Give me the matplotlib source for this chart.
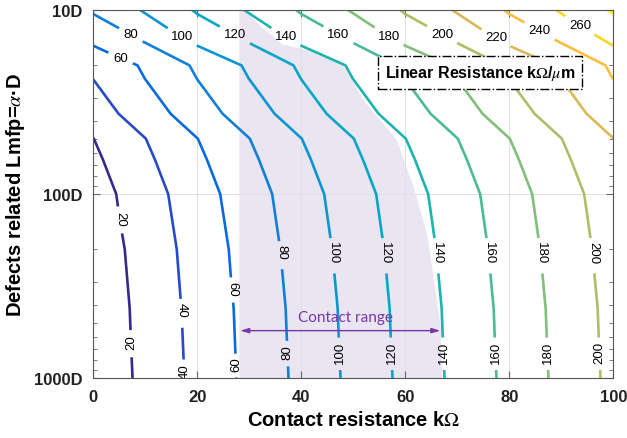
import numpy as np
import matplotlib
matplotlib.use('Agg')
import matplotlib.pyplot as plt
from matplotlib.colors import LinearSegmentedColormap, Normalize
from matplotlib.ticker import NullFormatter

plt.rcParams['font.family'] = ['Liberation Sans', 'DejaVu Sans']
plt.rcParams['mathtext.fontset'] = 'stix'

# grid: contact resistance (kOhm) x mean free path (in D)
contact_kohm = [0, 20, 40, 60, 80, 100]
lmfp_d = [10, 20, 23.6, 36.6, 50, 65, 100, 200, 420, 1000]
linear_res = [
    [82.0, 122.0, 162.0, 202.0, 242.0, 282.0],
    [43.0, 83.0, 123.0, 163.0, 203.0, 243.0],
    [40.2, 80.2, 120.2, 160.2, 200.2, 240.2],
    [30.3, 70.3, 110.3, 150.3, 190.3, 230.3],
    [19.8, 59.8, 99.8, 139.8, 179.8, 219.8],
    [16.3, 56.3, 96.3, 136.3, 176.3, 216.3],
    [11.2, 51.2, 91.2, 131.2, 171.2, 211.2],
    [7.9, 47.9, 87.9, 127.9, 167.9, 207.9],
    [6.0, 46.0, 86.0, 126.0, 166.0, 206.0],
    [4.9, 44.9, 84.9, 124.9, 164.9, 204.9],
]
levels = [20, 40, 60, 80, 100, 120, 140, 160, 180, 200, 220, 240, 260, 280]

# shaded "contact range" band: left edge and hand drawn right edge
contact_range = [28, 67]
shade_lmfp = [10, 12.4, 15.3, 16.3, 19.9, 30.8, 50.2, 90.5, 169, 279, 521, 1000]
shade_right = [29.2, 32.4, 36.3, 40.7, 48.0, 51.9, 58.2, 61.5, 64.2, 65.3, 66.7, 67.0]
arrow_lmfp = 553

# contour label spots (x, lmfp)
top_labels = [(5.15, 18.5), (6.9, 14.07), (17.0, 14.07), (26.9, 14.07), (36.9, 14.07),
              (46.8, 14.07), (56.7, 14.07), (66.7, 14.07), (77.25, 14.38),
              (85.6, 13.22), (93.3, 12.42)]
mid_labels = [(4.75, 136.8), (16.7, 421.7), (26.3, 328), (35.9, 206.5), (45.8, 206.5),
              (55.7, 206.5), (65.7, 206.5), (75.7, 206.5), (85.6, 206.5), (95.5, 206.5)]
bot_labels = [(7.06, 637), (17.3, 912), (27.25, 840), (37.2, 722), (47.4, 722),
              (57.4, 722), (67.3, 722), (77.25, 722), (87.5, 722), (97.4, 722)]

# old matlab parula, every 4th entry of the 64 colour table
parula_pts = [
    (1, (0.2081, 0.1663, 0.5292)), (5, (0.1959, 0.2645, 0.7279)),
    (9, (0.0117, 0.3875, 0.8820)), (13, (0.0498, 0.4586, 0.8641)),
    (17, (0.0793, 0.5200, 0.8312)), (21, (0.0343, 0.5966, 0.8199)),
    (25, (0.0228, 0.6535, 0.7768)), (29, (0.0843, 0.6928, 0.7062)),
    (33, (0.2178, 0.7250, 0.6193)), (37, (0.3953, 0.7459, 0.5244)),
    (41, (0.5709, 0.7485, 0.4494)), (45, (0.7184, 0.7411, 0.3905)),
    (49, (0.8507, 0.7299, 0.3360)), (53, (0.9739, 0.7314, 0.2666)),
    (57, (0.9880, 0.8066, 0.1794)), (61, (0.9589, 0.8949, 0.1132)),
    (64, (0.9763, 0.9831, 0.0538)),
]
parula = LinearSegmentedColormap.from_list(
    'parula', [((i - 1) / 63, c) for i, c in parula_pts])

fig = plt.figure(figsize=(6.27, 4.39), dpi=100)
ax = fig.add_axes([0.1488, 0.1367, 0.8293, 0.8383])

ax.fill_betweenx(shade_lmfp, contact_range[0], shade_right, color='#e9e5f1', lw=0, zorder=1)

cs = ax.contour(contact_kohm, lmfp_d, linear_res, levels=levels, cmap=parula,
                norm=Normalize(19, 283), linewidths=1.9, zorder=2)

ax.set_yscale('log')
ax.set_xlim(0, 100)
ax.set_ylim(1000, 10)

texts = ax.clabel(cs, manual=top_labels + mid_labels + bot_labels, inline=True,
                  inline_spacing=6, fontsize=9.5, fmt='%d', colors='k')
rots = [0] * len(top_labels) + [-90] * len(mid_labels) + [90] * len(bot_labels)
for t, r in zip(texts, rots):
    t.set_rotation(r)

ax.annotate('', xy=(contact_range[1], arrow_lmfp), xytext=(contact_range[0], arrow_lmfp),
            arrowprops=dict(arrowstyle='<|-|>,head_length=0.5,head_width=0.15',
                            color='#7a35a8', lw=1.0, shrinkA=1, shrinkB=1), zorder=4)
ax.text(np.mean(contact_range) + 0.9, 466, 'Contact range', color='#7a35a8',
        fontsize=11, family='Lato', ha='center', va='center', zorder=4)

ax.text(0.7437, 0.830, r'Linear Resistance k$\Omega$/$\mu$m', transform=ax.transAxes,
        fontsize=11.5, fontweight='bold', ha='center', va='center', zorder=5,
        bbox=dict(boxstyle='square,pad=0.45', fc='white', ec='black', lw=1.0, ls='-.'))

ax.set_xticks([0, 20, 40, 60, 80, 100])
ax.set_yticks([10, 100, 1000], ['10D', '100D', '1000D'])
ax.yaxis.set_minor_formatter(NullFormatter())
ax.tick_params(which='both', direction='in', top=True, right=True, color='#666666',
               labelsize=12, pad=8)
ax.tick_params(which='major', length=5)
ax.tick_params(which='minor', length=3)
for lab in ax.get_xticklabels() + ax.get_yticklabels():
    lab.set_fontweight('bold')
    lab.set_color('#222222')

ax.grid(True, which='major', color='#e0e0e0', lw=0.7)
for s in ax.spines.values():
    s.set_color('#555555')
    s.set_linewidth(0.8)

ax.set_xlabel(r'Contact resistance k$\Omega$', fontsize=14.5, fontweight='bold', labelpad=4)
ax.set_ylabel(r'Defects related Lmfp=$\alpha$·D', fontsize=14.5, fontweight='bold', labelpad=5)

fig.savefig('out.png', dpi=100)
